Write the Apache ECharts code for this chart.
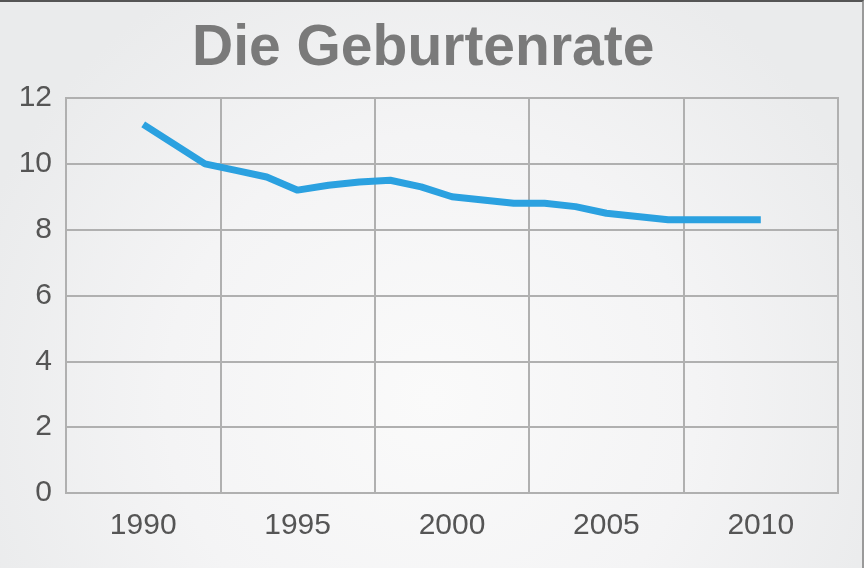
<!DOCTYPE html>
<html>
<head>
<meta charset="utf-8">
<script src="https://cdn.jsdelivr.net/npm/echarts@6/dist/echarts.min.js"></script>
<style>
  html, body { margin: 0; padding: 0; }
  #chart { width: 864px; height: 568px; box-sizing: border-box;
           border-top: 2px solid #555; border-right: 2px solid #9a9a9a; }
</style>
</head>
<body>
<div id="chart"></div>
<script>
// Die Geburtenrate, 1990-2010
var tickLabels = ['1990', '1995', '2000', '2005', '2010'];
var years = [1990, 1991, 1992, 1993, 1994, 1995, 1996, 1997, 1998, 1999, 2000,
             2001, 2002, 2003, 2004, 2005, 2006, 2007, 2008, 2009, 2010];
var rates = [11.2, 10.6, 10.0, 9.8, 9.6, 9.2, 9.35, 9.45, 9.5, 9.3, 9.0,
             8.9, 8.8, 8.8, 8.7, 8.5, 8.4, 8.3, 8.3, 8.3, 8.3];

(function () {
  var grid = '#b0b0b0';
  var text = '#555555';
  var chart = echarts.init(document.getElementById('chart'), null, { renderer: 'canvas' });

  chart.setOption({
    animation: false,
    backgroundColor: {
      type: 'radial', x: 0.5, y: 0.7, r: 0.85,
      colorStops: [
        { offset: 0, color: '#fafafa' },
        { offset: 0.55, color: '#f4f4f5' },
        { offset: 1, color: '#eaebec' }
      ]
    },
    title: {
      text: 'Die Geburtenrate',
      left: 187,
      top: 14,
      textStyle: { fontFamily: 'Liberation Sans', fontSize: 57, fontWeight: 'bold', color: '#7a7a7a' }
    },
    grid: {
      left: 66, right: 24, top: 96, bottom: 75,
      show: true, borderColor: grid, borderWidth: 2, backgroundColor: 'transparent'
    },
    xAxis: [
      {
        type: 'category',
        data: tickLabels,
        boundaryGap: true,
        axisLine: { lineStyle: { color: grid, width: 2 } },
        axisTick: { show: false },
        axisLabel: { color: text, fontFamily: 'Liberation Sans', fontSize: 30, margin: 18 },
        splitLine: { show: true, lineStyle: { color: grid, width: 2 } }
      },
      {
        type: 'value',
        min: 1987.5,
        max: 2012.5,
        show: false
      }
    ],
    yAxis: {
      type: 'value',
      min: 0,
      max: 12,
      interval: 2,
      axisLine: { show: true, lineStyle: { color: grid, width: 2 } },
      axisTick: { show: false },
      axisLabel: { color: text, fontFamily: 'Liberation Sans', fontSize: 30, margin: 14 },
      splitLine: { lineStyle: { color: grid, width: 2 } }
    },
    series: [{
      type: 'line',
      xAxisIndex: 1,
      data: years.map(function (y, i) { return [y, rates[i]]; }),
      showSymbol: false,
      lineStyle: { color: '#2ba1e0', width: 7 },
      itemStyle: { color: '#2ba1e0' }
    }]
  });
})();
</script>
</body>
</html>
